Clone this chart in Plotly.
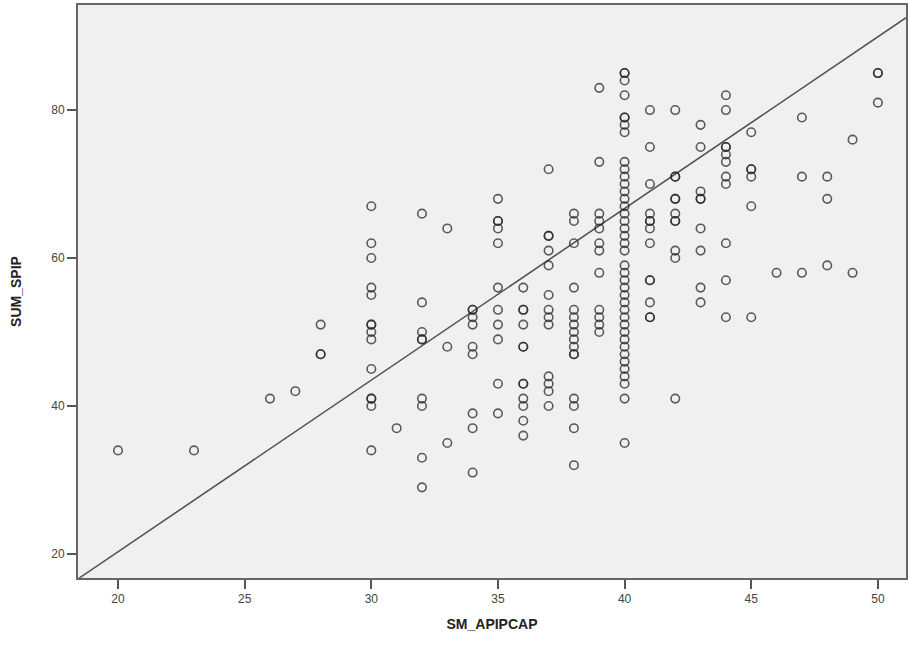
import plotly.graph_objects as go

# SM_APIPCAP (x) and SUM_SPIP (y) pairs, read column by column
sm_apipcap = (
    [20] + [23] + [26] + [27] + [28] * 3
    + [30] * 14 + [31] + [32] * 9 + [33] * 3 + [34] * 9 + [35] * 11
    + [36] * 12 + [37] * 13 + [38] * 16 + [39] * 12 + [40] * 40
    + [41] * 13 + [42] * 11 + [43] * 9 + [44] * 11 + [45] * 6
    + [46] + [47] * 3 + [48] * 3 + [49] * 2 + [50] * 3
)
sum_spip = (
    [34] + [34] + [41] + [42] + [51, 47, 47]
    + [67, 62, 60, 56, 55, 51, 51, 50, 49, 45, 41, 41, 40, 34]
    + [37]
    + [66, 54, 50, 49, 49, 41, 40, 33, 29]
    + [64, 48, 35]
    + [53, 53, 52, 51, 48, 47, 39, 37, 31]
    + [68, 65, 65, 64, 62, 56, 53, 51, 49, 43, 39]
    + [56, 53, 53, 51, 48, 48, 43, 43, 41, 40, 38, 36]
    + [72, 63, 63, 61, 59, 55, 53, 52, 51, 44, 43, 42, 40]
    + [66, 65, 62, 56, 53, 52, 51, 50, 49, 48, 47, 47, 41, 40, 37, 32]
    + [83, 73, 66, 65, 64, 62, 61, 58, 53, 52, 51, 50]
    + [85, 85, 84, 82, 79, 79, 78, 77, 73, 72, 71, 70, 69, 68, 67, 66, 65, 64,
       63, 62, 61, 59, 58, 57, 56, 55, 54, 53, 52, 51, 50, 49, 48, 47, 46, 45,
       44, 43, 41, 35]
    + [80, 75, 70, 66, 65, 65, 64, 62, 57, 57, 54, 52, 52]
    + [80, 71, 71, 68, 68, 66, 65, 65, 61, 60, 41]
    + [78, 75, 69, 68, 68, 64, 61, 56, 54]
    + [82, 80, 75, 75, 74, 73, 71, 70, 62, 57, 52]
    + [77, 72, 72, 71, 67, 52]
    + [58]
    + [79, 71, 58]
    + [71, 68, 59]
    + [76, 58]
    + [85, 85, 81]
)

x_ticks = [20, 25, 30, 35, 40, 45, 50]
y_ticks = [20, 40, 60, 80]

X_RANGE = [18.42, 51.11]
Y_RANGE = [16.75, 94.2]

# fit line (total)
FIT_INTERCEPT = -26.1
FIT_SLOPE = 2.32

fit_x = X_RANGE
fit_y = [FIT_INTERCEPT + FIT_SLOPE * v for v in fit_x]

fig = go.Figure()
fig.add_trace(go.Scatter(
    x=fit_x, y=fit_y, mode="lines",
    line=dict(color="#555555", width=1.6),
    hoverinfo="skip", showlegend=False,
))
fig.add_trace(go.Scatter(
    x=sm_apipcap, y=sum_spip, mode="markers",
    marker=dict(symbol="circle-open", size=8.5, color="rgba(40,40,40,0.75)",
                line=dict(color="rgba(40,40,40,0.75)", width=1.6)),
    showlegend=False,
))

fig.update_layout(
    width=909, height=648,
    margin=dict(l=78, r=3, t=5, b=70),
    paper_bgcolor="white",
    plot_bgcolor="#F0F0F0",
    font=dict(family="Liberation Sans, Arial, sans-serif", color="#333333"),
)
fig.update_xaxes(
    range=X_RANGE, tickvals=x_ticks, ticks="outside", ticklen=9,
    tickcolor="#555555", tickwidth=1.5, automargin=False,
    showgrid=False, zeroline=False,
    showline=True, linecolor="#666666", linewidth=2, mirror=True,
    tickfont=dict(size=12, color="#444444"),
    title=dict(text="<b>SM_APIPCAP</b>", font=dict(size=14, color="#222222"),
               standoff=14),
)
fig.update_yaxes(
    range=Y_RANGE, tickvals=y_ticks, ticks="outside", ticklen=9,
    tickcolor="#555555", tickwidth=1.5, automargin=False,
    showgrid=False, zeroline=False,
    showline=True, linecolor="#666666", linewidth=2, mirror=True,
    tickfont=dict(size=12, color="#444444"),
    title=dict(text="<b>SUM_SPIP</b>", font=dict(size=14, color="#222222"),
               standoff=26),
)

fig.write_html("out.html",
               config={"displayModeBar": False},
               post_script="document.body.style.margin='0';"
                           "document.body.style.overflow='hidden';")
